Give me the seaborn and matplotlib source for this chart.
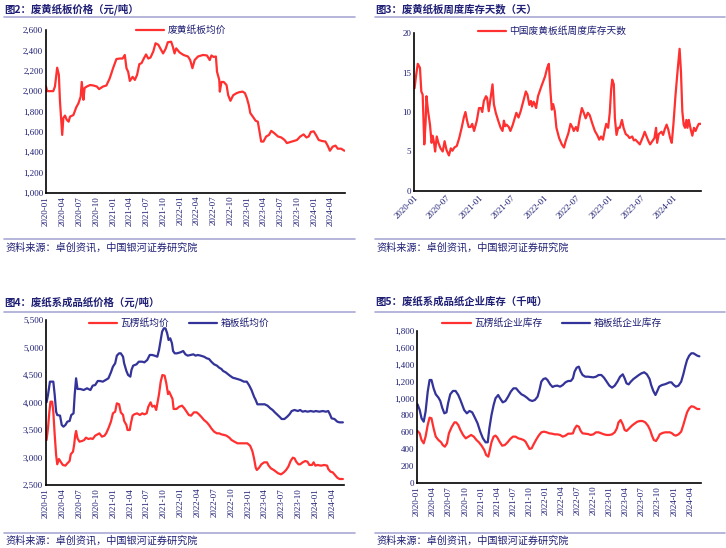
import pandas as pd
import numpy as np
import matplotlib.pyplot as plt
import matplotlib.dates as mdates
import matplotlib.ticker as mticker
from matplotlib.lines import Line2D
import seaborn as sns

sns.set_style('white')
plt.rcParams['font.family'] = ['Noto Sans CJK SC', 'DejaVu Sans']
plt.rcParams['axes.unicode_minus'] = False

# --- data (x in months since 2020-01) ---
# Fig 2: waste yellow board price (yuan/t)
occ_m = [0, 0.2, 1.3, 1.6, 2.0, 2.3, 2.5, 2.9, 3.1, 3.4, 3.7, 4.05, 4.3, 4.9, 5.4, 5.8,
         6.2, 6.4, 6.7, 6.9, 7.3, 7.9, 8.5, 9.1, 9.5, 10.2, 10.8, 11.4, 12.0, 12.6, 13.2,
         13.7, 14.1, 14.4, 14.7, 15.0, 15.5, 15.9, 16.3, 16.7, 17.1, 17.5, 17.9, 18.3,
         18.7, 19.2, 19.6, 20.1, 20.5, 20.95, 21.4, 21.8, 22.4, 22.7, 23.0, 23.3, 23.9,
         24.6, 25.4, 25.8, 26.2, 26.6, 27.2, 28.1, 28.8, 29.3, 29.6, 30.0, 30.4, 30.6,
         31.0, 31.1, 31.4, 31.8, 32.3, 32.6, 33.0, 33.5, 34.1, 34.6, 35.2, 35.6, 35.95,
         36.3, 36.55, 37.0, 37.5, 37.9, 38.2, 38.5, 38.9, 39.4, 39.9, 40.3, 40.9, 41.5,
         42.1, 42.7, 43.1, 43.7, 44.3, 44.9, 45.5, 46.1, 46.6, 47.0, 47.4, 47.9, 48.3,
         48.8, 49.4, 50.0, 50.4, 50.8, 51.3, 51.8, 52.2, 52.8, 53.4]
occ_price = [2045, 2000, 2000, 2045, 2230, 2160, 1900, 1570, 1735, 1760, 1720, 1700, 1750,
             1765, 1840, 1880, 1945, 2090, 1915, 2030, 2045, 2060, 2055, 2045, 2020, 2045,
             2055, 2125, 2225, 2315, 2320, 2320, 2355, 2225, 2190, 2100, 2140, 2110, 2160,
             2265, 2275, 2320, 2360, 2320, 2330, 2390, 2470, 2455, 2415, 2370, 2415, 2480,
             2485, 2435, 2370, 2420, 2380, 2355, 2340, 2305, 2225, 2305, 2340, 2355, 2350,
             2305, 2350, 2335, 2340, 2190, 2110, 1995, 2090, 2090, 2060, 1960, 1905, 1960,
             1980, 1990, 1995, 1980, 1930, 1860, 1785, 1750, 1710, 1700, 1605, 1505, 1505,
             1555, 1570, 1610, 1585, 1555, 1545, 1520, 1490, 1500, 1510, 1520, 1555, 1575,
             1545, 1555, 1600, 1605, 1570, 1520, 1510, 1505, 1465, 1415, 1455, 1465, 1435,
             1435, 1415]

# Fig 3: weekly inventory days (days)
days_m = [0.1, 0.4, 0.7, 1.1, 1.35, 1.6, 1.9, 2.15, 2.3, 2.6, 2.95, 3.25, 3.45, 3.7, 3.9,
          4.2, 4.5, 4.9, 5.3, 5.65, 6.0, 6.45, 6.8, 7.1, 7.45, 7.9, 8.35, 8.8, 9.2, 9.5,
          9.8, 10.1, 10.45, 10.75, 11.1, 11.6, 12.0, 12.35, 12.6, 12.9, 13.3, 13.5, 13.8,
          14.2, 14.5, 14.75, 15.1, 15.6, 16.0, 16.35, 16.6, 16.85, 17.1, 17.5, 17.8, 18.2,
          18.6, 18.9, 19.3, 19.7, 20.05, 20.35, 20.65, 20.95, 21.3, 21.6, 21.8, 22.1, 22.3,
          22.55, 22.9, 23.5, 24.2, 24.6, 24.9, 25.2, 25.45, 25.7, 26.0, 26.3, 26.8, 27.3,
          27.7, 28.0, 28.5, 28.9, 29.3, 29.5, 29.9, 30.2, 30.6, 31.0, 31.35, 31.7, 32.1,
          32.45, 32.9, 33.4, 33.9, 34.2, 34.55, 34.9, 35.2, 35.5, 35.85, 36.15, 36.4, 36.6,
          36.9, 37.1, 37.4, 37.7, 38.0, 38.4, 38.7, 39.1, 39.5, 39.8, 40.3, 40.6, 40.9,
          41.3, 41.7, 42.0, 42.3, 42.6, 42.9, 43.3, 43.6, 44.0, 44.4, 44.7, 44.9, 45.2,
          45.7, 46.0, 46.3, 46.65, 46.95, 47.3, 47.6, 47.9, 48.3, 48.7, 49.05, 49.3, 49.55,
          49.8, 50.05, 50.3, 50.5, 50.75, 51.1, 51.4, 51.7, 52.0, 52.3, 52.6, 53.0]
inv_days = [13.0, 14.7, 16.1, 15.6, 12.6, 12.2, 5.9, 8.8, 12.0, 10.1, 8.4, 6.1, 7.0, 6.1,
            5.0, 6.9, 6.1, 5.4, 5.0, 6.3, 5.2, 4.5, 5.4, 5.1, 5.5, 5.7, 6.7, 8.0, 9.3, 10.0,
            8.9, 8.1, 8.1, 8.5, 7.6, 8.9, 10.5, 10.5, 10.0, 11.4, 12.0, 11.8, 10.1, 12.0,
            13.5, 11.0, 9.9, 8.8, 8.0, 7.6, 8.9, 8.2, 8.4, 8.1, 7.6, 8.3, 9.2, 9.9, 9.3,
            10.1, 11.0, 11.8, 12.6, 12.2, 10.9, 11.4, 10.7, 11.3, 11.0, 10.5, 12.0, 13.2,
            14.5, 15.6, 16.1, 12.6, 10.3, 11.0, 10.1, 8.0, 6.7, 5.9, 5.5, 6.3, 7.3, 8.5, 8.0,
            7.6, 8.1, 7.6, 9.2, 10.5, 9.9, 9.2, 9.9, 9.6, 8.6, 7.6, 7.0, 6.5, 6.9, 6.5, 7.6,
            8.5, 8.0, 9.9, 12.8, 14.1, 13.5, 9.2, 7.1, 8.0, 8.0, 9.0, 8.0, 7.2, 7.0, 6.7,
            6.9, 6.4, 6.5, 6.2, 5.9, 6.4, 6.9, 7.5, 7.0, 6.3, 5.9, 6.3, 6.7, 8.0, 6.1, 7.2,
            7.5, 7.1, 7.8, 8.4, 7.8, 6.7, 6.1, 8.4, 12.2, 15.4, 18.0, 15.1, 10.1, 8.4, 8.0,
            9.0, 8.0, 9.0, 7.8, 7.0, 8.0, 7.6, 8.1, 8.5, 8.5]

# Fig 4: finished paper prices (yuan/t)
corr_m = [0.1, 0.35, 0.6, 0.8, 1.1, 1.3, 1.55, 1.8, 2.0, 2.3, 2.6, 3.0, 3.45, 3.8, 4.2, 4.4,
          4.8, 5.0, 5.2, 5.35, 5.6, 5.95, 6.4, 6.8, 7.1, 7.55, 7.95, 8.3, 8.75, 9.2, 9.5,
          9.95, 10.4, 10.7, 11.1, 11.55, 11.9, 12.3, 12.6, 13.0, 13.3, 13.7, 13.9, 14.3,
          14.5, 14.9, 15.1, 15.4, 15.7, 16.2, 16.7, 17.1, 17.5, 17.9, 18.2, 18.6, 18.9,
          19.3, 19.6, 20.1, 20.4, 20.7, 21.1, 21.4, 21.7, 21.9, 22.1, 22.5, 22.7, 23.2,
          23.7, 24.2, 24.6, 25.0, 25.4, 25.8, 26.3, 26.8, 27.2, 27.6, 28.1, 28.6, 29.0,
          29.4, 29.9, 30.4, 30.8, 31.2, 31.7, 32.1, 32.6, 33.0, 33.5, 34.05, 34.6, 35.2,
          35.8, 36.3, 36.7, 37.0, 37.3, 37.5, 37.9, 38.3, 38.8, 39.3, 39.6, 40.0, 40.5,
          40.9, 41.3, 41.8, 42.3, 42.7, 43.1, 43.5, 43.9, 44.2, 44.5, 44.9, 45.2, 45.65,
          46.1, 46.5, 46.85, 47.3, 47.6, 47.9, 48.3, 48.9, 49.5, 50.0, 50.2, 50.6, 51.0,
          51.4, 51.8, 52.2, 52.8]
corr_price = [3318, 3530, 3833, 4015, 4015, 3833, 3409, 3045, 2876, 2973, 2924, 2864, 2852,
              2894, 2936, 3058, 3106, 3227, 3409, 3482, 3348, 3288, 3300, 3318, 3361, 3336,
              3348, 3336, 3397, 3421, 3439, 3379, 3397, 3439, 3530, 3652, 3803, 3833, 3985,
              3967, 3821, 3773, 3664, 3591, 3500, 3500, 3621, 3761, 3785, 3803, 3773, 3803,
              3785, 3803, 3924, 4003, 3924, 3942, 3864, 4152, 4379, 4500, 4488, 4348, 4152,
              4197, 4152, 4064, 3882, 3882, 3924, 3942, 3894, 3833, 3773, 3761, 3821, 3821,
              3785, 3742, 3682, 3639, 3591, 3530, 3470, 3439, 3439, 3421, 3409, 3397, 3361,
              3318, 3288, 3258, 3258, 3258, 3258, 3215, 3118, 2985, 2815, 2773, 2815, 2876,
              2912, 2912, 2852, 2803, 2773, 2742, 2712, 2694, 2730, 2773, 2833, 2936, 2997,
              2985, 2924, 2876, 2876, 2912, 2936, 2924, 2864, 2864, 2912, 2852, 2864, 2852,
              2864, 2852, 2791, 2742, 2730, 2682, 2633, 2609, 2609]

box_m = [0.1, 0.35, 0.7, 1.3, 1.55, 1.8, 2.0, 2.5, 2.8, 3.1, 3.45, 3.8, 4.2, 4.5, 4.9, 5.1,
         5.35, 5.6, 6.1, 6.7, 7.3, 7.9, 8.3, 8.75, 9.2, 9.6, 10.1, 10.6, 11.1, 11.55, 11.9,
         12.3, 12.6, 13.0, 13.3, 13.7, 13.9, 14.3, 14.6, 15.0, 15.2, 15.5, 16.1, 16.5, 17.1,
         17.5, 18.0, 18.45, 18.9, 19.3, 19.8, 20.1, 20.4, 20.65, 20.95, 21.25, 21.55, 21.8,
         22.1, 22.4, 22.6, 22.9, 23.3, 23.9, 24.4, 24.8, 25.2, 25.7, 26.2, 26.6, 27.0, 27.5,
         28.1, 28.6, 29.0, 29.4, 29.9, 30.4, 30.8, 31.2, 31.5, 31.95, 32.4, 32.7, 33.2,
         33.6, 34.05, 34.6, 35.2, 35.7, 36.1, 36.55, 37.0, 37.3, 37.6, 38.2, 38.9, 39.4,
         39.9, 40.3, 40.7, 41.2, 41.7, 41.9, 42.4, 42.9, 43.3, 43.7, 44.2, 44.8, 45.2,
         45.65, 46.1, 46.5, 47.1, 47.6, 48.0, 48.6, 49.2, 49.8, 50.2, 50.5, 50.8, 51.3,
         51.8, 52.2, 52.8]
box_price = [4003, 4136, 4379, 4379, 4136, 3833, 3773, 3761, 3591, 3561, 3591, 3652, 3664,
             3773, 3803, 4136, 4440, 4246, 4246, 4227, 4258, 4227, 4306, 4318, 4391, 4391,
             4379, 4409, 4440, 4549, 4651, 4712, 4852, 4894, 4894, 4833, 4712, 4573, 4500,
             4470, 4591, 4670, 4694, 4742, 4742, 4730, 4773, 4864, 4864, 4852, 4833, 4955,
             5136, 5288, 5348, 5348, 5258, 5136, 5167, 5076, 4936, 4894, 4894, 4912, 4936,
             4876, 4852, 4864, 4876, 4852, 4864, 4852, 4833, 4803, 4791, 4742, 4694, 4670,
             4633, 4609, 4573, 4549, 4512, 4488, 4452, 4440, 4427, 4409, 4379, 4379, 4318,
             4227, 4106, 4045, 3967, 3967, 3967, 3942, 3894, 3864, 3821, 3773, 3724, 3700,
             3700, 3742, 3785, 3845, 3864, 3845, 3864, 3833, 3845, 3833, 3845, 3833, 3845,
             3833, 3845, 3833, 3845, 3785, 3712, 3700, 3652, 3639, 3639]

# Fig 5: finished paper enterprise inventory (kt)
stock_m = [0.1, 0.5, 0.85, 1.25, 1.6, 2.0, 2.35, 2.7, 3.1, 3.5, 4.0, 4.35, 4.7, 5.1, 5.5,
           5.8, 6.2, 6.7, 7.2, 7.7, 8.1, 8.45, 8.8, 9.3, 9.8, 10.3, 10.8, 11.3, 11.8, 12.3,
           12.8, 13.2, 13.5, 13.9, 14.3, 14.65, 15.15, 15.5, 16.0, 16.5, 17.0, 17.5, 18.0,
           18.5, 19.0, 19.5, 20.0, 20.5, 21.0, 21.5, 22.0, 22.5, 22.85, 23.2, 23.6, 24.0,
           24.35, 24.85, 25.3, 25.7, 26.2, 26.7, 27.2, 27.7, 28.2, 28.7, 29.1, 29.4, 29.8,
           30.2, 30.55, 30.9, 31.4, 31.9, 32.4, 32.9, 33.4, 33.9, 34.4, 34.9, 35.4, 35.9,
           36.4, 36.9, 37.4, 37.9, 38.4, 38.75, 39.1, 39.5, 39.9, 40.4, 40.9, 41.4, 41.9,
           42.4, 42.9, 43.4, 43.7, 44.1, 44.5, 44.85, 45.2, 45.7, 46.2, 46.7, 47.1, 47.5,
           47.8, 48.3, 48.8, 49.3, 49.7, 50.1, 50.4, 50.8, 51.2, 51.6, 51.9, 52.3, 52.7]
box_stock = [932, 865, 766, 726, 845, 1082, 1220, 1220, 1121, 1050, 1011, 971, 892, 825,
             837, 944, 1050, 1090, 1090, 1042, 983, 924, 865, 825, 853, 837, 774, 707, 608,
             529, 482, 482, 647, 805, 924, 1003, 1042, 1003, 955, 971, 1022, 1082, 1121,
             1121, 1082, 1050, 1034, 1011, 983, 971, 983, 1022, 1101, 1200, 1232, 1240,
             1220, 1168, 1137, 1149, 1153, 1141, 1160, 1192, 1208, 1208, 1240, 1318, 1366,
             1378, 1318, 1279, 1259, 1259, 1255, 1251, 1259, 1279, 1279, 1247, 1200, 1153,
             1129, 1153, 1200, 1259, 1287, 1240, 1180, 1168, 1200, 1232, 1255, 1279, 1299,
             1311, 1287, 1232, 1160, 1090, 1042, 1090, 1141, 1160, 1168, 1180, 1192, 1192,
             1168, 1141, 1153, 1200, 1287, 1390, 1457, 1508, 1536, 1536, 1524, 1508, 1500]

corr_stock_m = [0.1, 0.5, 0.85, 1.25, 1.6, 2.0, 2.35, 2.7, 3.1, 3.5, 4.0, 4.5, 4.8, 5.2, 5.6,
                5.95, 6.5, 7.0, 7.3, 7.7, 8.1, 8.6, 9.1, 9.6, 10.1, 10.6, 11.1, 11.55, 12.05,
                12.55, 12.9, 13.3, 13.5, 13.9, 14.3, 14.65, 15.0, 15.4, 15.9, 16.4, 16.9,
                17.4, 17.9, 18.4, 18.9, 19.4, 19.9, 20.25, 20.6, 21.0, 21.4, 21.7, 22.2,
                22.7, 23.2, 23.7, 24.2, 24.7, 25.2, 25.7, 26.2, 26.7, 27.2, 27.7, 28.2,
                28.7, 29.1, 29.4, 29.8, 30.2, 30.55, 30.9, 31.4, 31.9, 32.4, 32.9, 33.4,
                33.9, 34.4, 34.9, 35.4, 35.9, 36.4, 36.9, 37.3, 37.6, 38.0, 38.4, 38.75,
                39.1, 39.6, 40.1, 40.6, 41.1, 41.6, 42.1, 42.6, 43.1, 43.5, 43.85, 44.2,
                44.6, 45.0, 45.3, 45.8, 46.3, 46.8, 47.2, 47.6, 47.95, 48.3, 48.8, 49.3,
                49.7, 50.1, 50.4, 50.8, 51.2, 51.6, 51.9, 52.3, 52.7]
corr_stock = [616, 588, 509, 470, 549, 687, 774, 766, 647, 549, 509, 482, 450, 430, 470,
              588, 667, 718, 718, 687, 628, 569, 529, 549, 569, 549, 509, 482, 442, 391,
              332, 312, 363, 482, 549, 561, 537, 490, 442, 450, 482, 521, 549, 549, 529,
              521, 509, 490, 450, 403, 411, 450, 509, 561, 600, 608, 600, 588, 584, 576,
              576, 569, 549, 561, 584, 584, 588, 640, 679, 667, 616, 588, 584, 580, 569,
              576, 600, 600, 588, 576, 569, 569, 576, 600, 647, 718, 746, 695, 628, 616,
              647, 679, 703, 726, 734, 734, 718, 679, 628, 561, 509, 497, 537, 576, 592,
              600, 600, 600, 588, 569, 561, 576, 608, 687, 774, 837, 884, 908, 904, 892,
              876, 876]

RED = '#ff3030'
BLUE = '#333399'
NAVY = '#1f1f75'
SEP = '#a9a9d6'
W, H = 726, 548
START = pd.Timestamp('2020-01-01')


def to_dates(months):
    return START + pd.to_timedelta(np.asarray(months) * 30.4375, unit='D')


fig = plt.figure(figsize=(W / 100, H / 100), dpi=100)


def px_axes(l, t, r, b):
    return fig.add_axes([l / W, 1 - b / H, (r - l) / W, (b - t) / H])


def style_axes(ax, x_end, months, rot):
    ax.set_xlim(START, to_dates([x_end])[0])
    for s in ['top', 'right']:
        ax.spines[s].set_visible(False)
    for s in ['left', 'bottom']:
        ax.spines[s].set_color('black')
        ax.spines[s].set_linewidth(1.2)
    ax.xaxis.set_major_locator(mdates.MonthLocator(bymonth=months))
    ax.xaxis.set_major_formatter(mdates.DateFormatter('%Y-%m'))
    ax.tick_params(axis='both', direction='in', length=3, width=0.8, colors='black',
                   labelcolor=NAVY, labelsize=6.5, pad=2)
    for lab in ax.get_yticklabels():
        lab.set_fontfamily('Liberation Serif')
    for lab in ax.get_xticklabels():
        lab.set_fontfamily('Liberation Serif')
        if rot == 90:
            lab.set_rotation(90)
            lab.set_ha('center')
            lab.set_va('top')
        else:
            lab.set_rotation(45)
            lab.set_ha('right')
            lab.set_va('top')
            lab.set_rotation_mode('anchor')
    ax.set_xlabel('')
    ax.set_ylabel('')
    ax.grid(False)


def header(x0, x1, y_title, y_line, text):
    fig.text(x0 / W, 1 - y_title / H, text, ha='left', va='center', fontsize=7.5,
             fontweight='bold', color=NAVY)
    fig.add_artist(Line2D([x0 / W, x1 / W], [1 - y_line / H, 1 - y_line / H],
                          color=SEP, lw=1.2))


def footer(x0, x1, y_line, y_text):
    fig.add_artist(Line2D([x0 / W, x1 / W], [1 - y_line / H, 1 - y_line / H],
                          color=SEP, lw=1.2))
    fig.text(x0 / W + 1 / W, 1 - y_text / H, '资料来源：卓创资讯，中国银河证券研究院',
             ha='left', va='center', fontsize=7.3, color=NAVY, style='italic')


def legend(ax, cx, cy, ncol=1):
    ax.legend(loc='center', bbox_to_anchor=(cx / W, 1 - cy / H),
              bbox_transform=fig.transFigure, frameon=False, ncol=ncol,
              fontsize=7, labelcolor=NAVY, handlelength=2.9, handletextpad=0.35,
              columnspacing=2.0, borderaxespad=0, borderpad=0)


fmt = mticker.FuncFormatter(lambda v, p: f'{v:,.0f}')

# ---- Fig 2 ----
ax1 = px_axes(46, 30, 345, 193)
sns.lineplot(x=to_dates(occ_m), y=occ_price, ax=ax1, color=RED, lw=1.6,
             label='废黄纸板均价')
ax1.set_ylim(1000, 2600)
ax1.set_yticks(np.arange(1000, 2601, 200))
ax1.yaxis.set_major_formatter(fmt)
style_axes(ax1, 53.5, [1, 4, 7, 10], 90)
legend(ax1, 181, 30)
header(4, 355, 9, 17, '图2：废黄纸板价格（元/吨）')
footer(4, 355, 239, 247)

# ---- Fig 3 ----
ax2 = px_axes(414, 33, 701, 191)
sns.lineplot(x=to_dates(days_m), y=inv_days, ax=ax2, color=RED, lw=1.6,
             label='中国废黄板纸周度库存天数')
ax2.set_ylim(0, 20)
ax2.set_yticks([0, 5, 10, 15, 20])
style_axes(ax2, 53.0, [1, 7], 45)
legend(ax2, 552, 31)
header(375, 725, 9, 17, '图3：废黄纸板周度库存天数（天）')
footer(375, 725, 239, 247)

# ---- Fig 4 ----
ax3 = px_axes(46, 320, 344, 485)
sns.lineplot(x=to_dates(corr_m), y=corr_price, ax=ax3, color=RED, lw=1.6,
             label='瓦楞纸均价')
sns.lineplot(x=to_dates(box_m), y=box_price, ax=ax3, color=BLUE, lw=1.6,
             label='箱板纸均价')
ax3.set_ylim(2500, 5500)
ax3.set_yticks(np.arange(2500, 5501, 500))
ax3.yaxis.set_major_formatter(fmt)
style_axes(ax3, 53.0, [1, 4, 7, 10], 90)
legend(ax3, 179, 323, ncol=2)
header(4, 355, 302, 312, '图4：废纸系成品纸价格（元/吨）')
footer(4, 355, 533, 540)

# ---- Fig 5 ----
ax4 = px_axes(417, 331, 701, 483)
sns.lineplot(x=to_dates(corr_stock_m), y=corr_stock, ax=ax4, color=RED, lw=1.6,
             label='瓦楞纸企业库存')
sns.lineplot(x=to_dates(stock_m), y=box_stock, ax=ax4, color=BLUE, lw=1.6,
             label='箱板纸企业库存')
ax4.set_ylim(0, 1800)
ax4.set_yticks(np.arange(0, 1801, 200))
ax4.yaxis.set_major_formatter(fmt)
style_axes(ax4, 53.0, [1, 4, 7, 10], 90)
legend(ax4, 552, 323, ncol=2)
header(375, 725, 302, 312, '图5：废纸系成品纸企业库存（千吨）')
footer(375, 725, 533, 540)

fig.savefig('out.png', dpi=100, facecolor='white')
